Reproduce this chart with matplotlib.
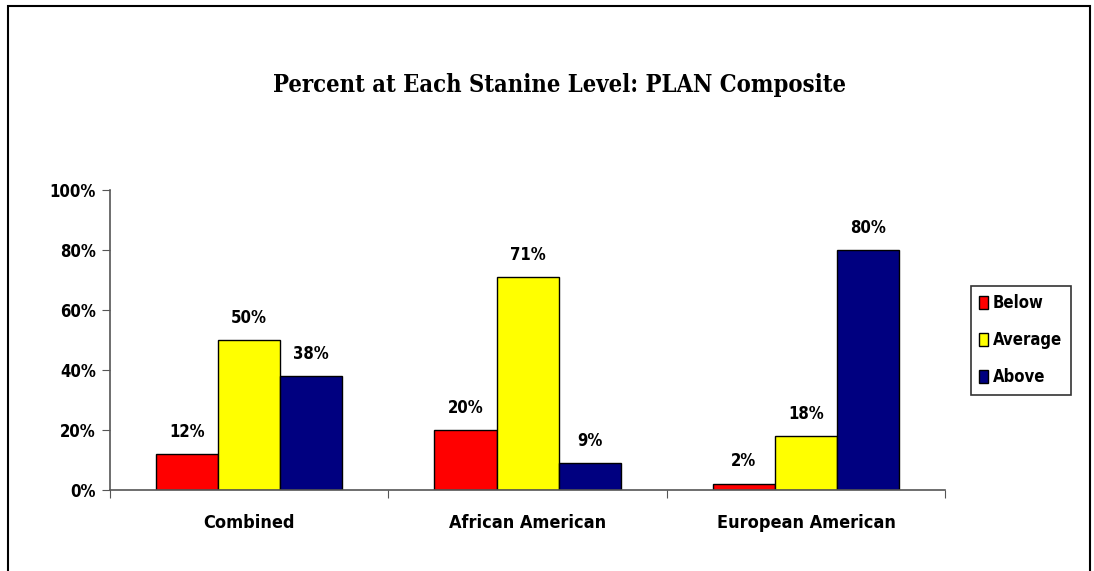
import numpy as np
import matplotlib.pyplot as plt
from matplotlib import font_manager
from matplotlib.patches import Rectangle

groups = ['Combined', 'African American', 'European American']
series = ['Below', 'Average', 'Above']
below = [12, 20, 2]
average = [50, 71, 18]
above = [38, 9, 80]
colors = ['#ff0000', '#ffff00', '#000080']

# pick a narrow sans / condensed serif if one is installed
names = {f.name: f.stretch for f in font_manager.fontManager.ttflist}
sans_stretch = 'normal'
if 'Liberation Sans Narrow' in names:
    narrow = ['Liberation Sans Narrow', 'DejaVu Sans']
else:
    narrow = ['DejaVu Sans']
    if any(f.name == 'DejaVu Sans' and f.stretch != 'normal' for f in font_manager.fontManager.ttflist):
        sans_stretch = 'condensed'
serif_stretch = 'normal'
serif = 'Liberation Serif'
if any(f.name == 'DejaVu Serif' and f.stretch != 'normal' for f in font_manager.fontManager.ttflist):
    serif, serif_stretch = 'DejaVu Serif', 'condensed'

fig = plt.figure(figsize=(10.94, 5.71), dpi=100)
# outer frame
fig.patches.append(Rectangle((0.007, -0.01), 0.989, 1.0, transform=fig.transFigure,
                             fill=False, lw=1.5, ec='black'))

ax = fig.add_axes([0.1005, 0.1419, 0.7635, 0.525])
x = np.arange(len(groups))
w = 0.223
for i, (name, vals) in enumerate(zip(series, [below, average, above])):
    bars = ax.bar(x + (i - 1) * w, vals, w, color=colors[i], edgecolor='black',
                  linewidth=1, label=name)
    for b, v in zip(bars, vals):
        ax.text(b.get_x() + b.get_width() / 2, v + 4.5, f'{v}%', ha='center', va='bottom',
                family=narrow, stretch=sans_stretch, fontweight='bold', fontsize=12)

ax.set_xlim(-0.5, 2.5)
ax.set_ylim(0, 100)
ax.set_yticks(range(0, 101, 20))
ax.set_yticklabels([f'{t}%' for t in range(0, 101, 20)], family=narrow,
                   stretch=sans_stretch, fontweight='bold', fontsize=12)
ax.set_xticks([-0.5, 0.5, 1.5, 2.5])
ax.set_xticklabels([])
ax.set_xticks(x, minor=True)
ax.set_xticklabels(groups, minor=True, family=narrow, stretch=sans_stretch,
                   fontweight='bold', fontsize=13)
ax.tick_params(axis='x', which='minor', length=0, pad=17)
ax.tick_params(axis='x', which='major', length=6, color='#555555', direction='out')
ax.tick_params(axis='y', length=6, color='#555555', direction='out', pad=4)
for s in ['top', 'right']:
    ax.spines[s].set_visible(False)
for s in ['left', 'bottom']:
    ax.spines[s].set_color('#555555')
    ax.spines[s].set_linewidth(1.2)

fig.text(0.511, 0.851, 'Percent at Each Stanine Level: PLAN Composite', ha='center',
         va='center', family=serif, stretch=serif_stretch, fontweight='bold', fontsize=17)

leg = ax.legend(loc='center left', bbox_to_anchor=(0.8795, 0.404), bbox_transform=fig.transFigure,
                prop={'family': narrow, 'stretch': sans_stretch, 'weight': 'bold', 'size': 12},
                frameon=True, fancybox=False, edgecolor='black', handlelength=0.55,
                handleheight=0.8, handletextpad=0.3, labelspacing=1.15, borderpad=0.5)
leg.get_frame().set_linewidth(1.2)

plt.savefig('out.png', dpi=100)
